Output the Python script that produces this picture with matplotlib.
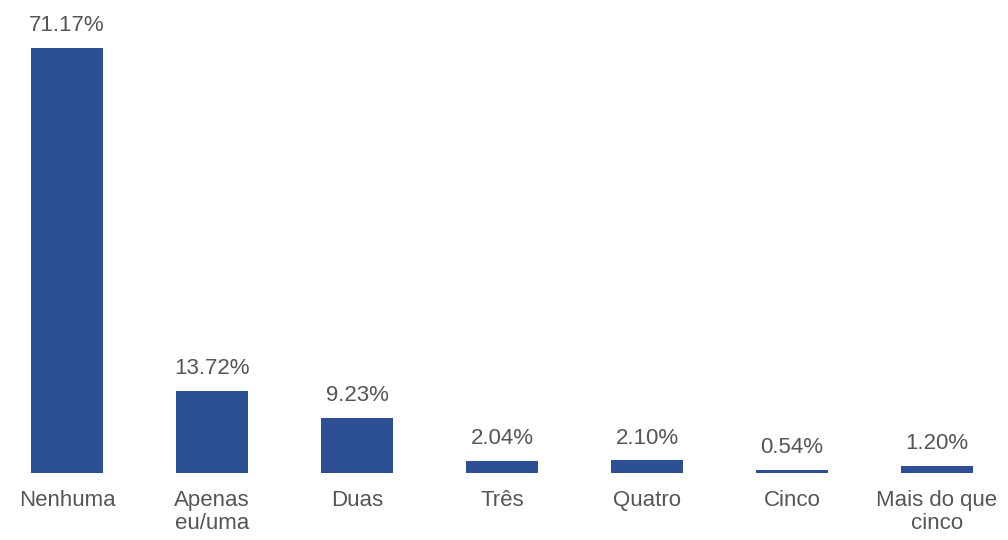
import matplotlib
matplotlib.use('Agg')
import matplotlib.pyplot as plt

# categories and percentages
categories = ['Nenhuma', 'Apenas\neu/uma', 'Duas', 'Três', 'Quatro', 'Cinco', 'Mais do que\ncinco']
values = [71.17, 13.72, 9.23, 2.04, 2.10, 0.54, 1.20]

bar_color = '#2C4F96'
text_color = '#555555'

plt.rcParams['font.family'] = ['Liberation Sans', 'DejaVu Sans']

fig = plt.figure(figsize=(10.08, 5.40), dpi=100)
ax = fig.add_axes([0, 67 / 540, 1, 425 / 540])

x = list(range(len(categories)))
bars = ax.bar(x, values, width=0.5, color=bar_color)

for xi, v in zip(x, values):
    ax.annotate(f'{v:.2f}%', (xi, v), xytext=(0, 12), textcoords='offset points',
                ha='center', va='baseline', fontsize=16, color=text_color)

ax.set_xlim(-67 / 145, (1008 - 67) / 145)
ax.set_ylim(0, 71.17)
ax.set_xticks(x)
ax.set_xticklabels(categories, fontsize=16, color=text_color, linespacing=1.15)
ax.tick_params(axis='x', length=0, pad=12)
ax.set_yticks([])
for s in ax.spines.values():
    s.set_visible(False)

fig.savefig('out.png', dpi=100)
